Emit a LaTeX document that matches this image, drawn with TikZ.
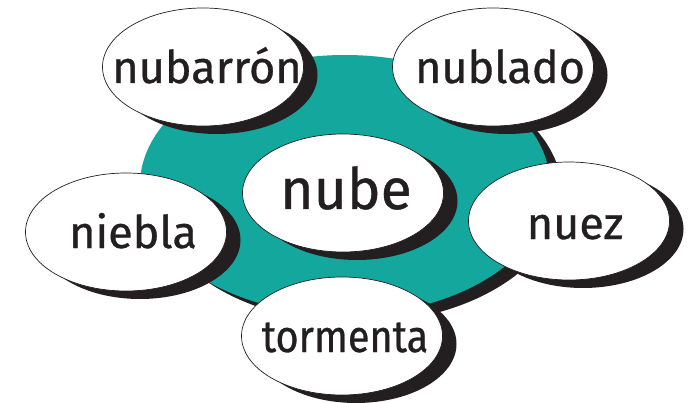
\documentclass[tikz,border=0pt]{standalone}
\usepackage{fontspec}
\setmainfont{Fira Sans}
\newfontfamily\wordfont[FakeBold=0.7]{Fira Sans}
\usetikzlibrary{shapes.geometric,shadows}
\definecolor{tealc}{RGB}{19,167,157}
\definecolor{inkc}{RGB}{35,31,32}
\begin{document}
\begin{tikzpicture}[x=1pt,y=-1pt,
  bub/.style={ellipse, draw=inkc, line width=0.7pt, fill=white, inner sep=0pt,
    minimum width=201pt, minimum height=118pt,
    drop shadow={shadow xshift=14pt, shadow yshift=-8pt, fill=inkc, opacity=1}},
  lbl/.style={anchor=base, text=inkc, font=\wordfont\fontsize{45}{45}\selectfont},
  big/.style={lbl, font=\wordfont\fontsize{57}{57}\selectfont}]
\useasboundingbox (0,0) rectangle (695,403);
% central teal ellipse with its shadow
\node[ellipse, fill=tealc, inner sep=0pt, minimum width=410pt, minimum height=260pt,
  drop shadow={shadow xshift=12pt, shadow yshift=-8pt, fill=inkc, opacity=1}] (core) at (345,185) {};
% word bubbles
\node[bub] (b1) at (203,67) {};
\node[bub] (b2) at (493,67) {};
\node[bub] (b3) at (343,193) {};
\node[bub] (b4) at (126,232) {};
\node[bub] (b5) at (569,221) {};
\node[bub] (b6) at (342,336) {};
% texts
\node[lbl] (t1) at (207,83) {nubarrón};
\node[lbl] (t2) at (500,83) {nublado};
\node[big] (t3) at (346,209) {nube};
\node[lbl] (t4) at (133,248) {niebla};
\node[lbl] (t5) at (575,239) {nuez};
\node[lbl] (t6) at (345,352) {\scalebox{0.88}[1]{tormenta}};
\end{tikzpicture}
\end{document}
